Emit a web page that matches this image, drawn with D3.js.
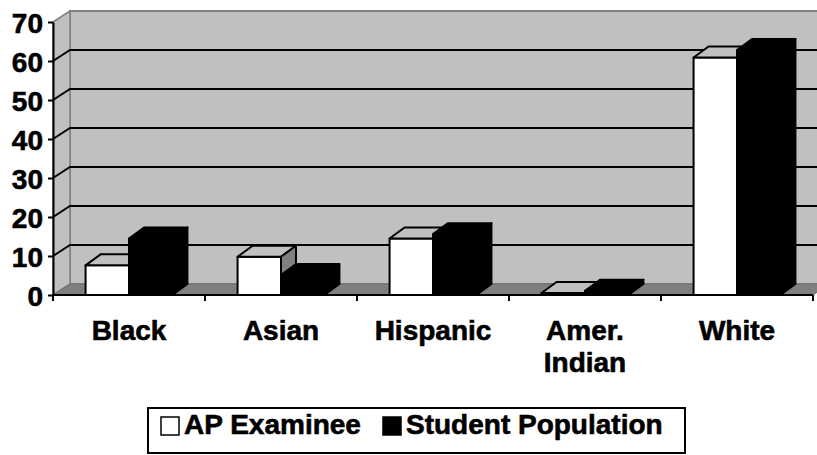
<!DOCTYPE html>
<html>
<head>
<meta charset="utf-8">
<script src="https://cdn.jsdelivr.net/npm/d3@7"></script>
<style>
  body { margin: 0; background: #fff; }
  svg { display: block; }
  text { font-family: "Liberation Sans", Arial, Helvetica, sans-serif; font-weight: bold;
         fill: #000; stroke: #000; stroke-width: 0.6px; }
</style>
</head>
<body>
<svg id="chart" width="817" height="455"></svg>
<script>
// Share of AP examinees vs. the student population, by ethnic group (percent)
const categories = ["Black", "Asian", "Hispanic", "Amer. Indian", "White"];
const seriesNames = ["AP Examinee", "Student Population"];
const apExaminee = [7.6, 9.8, 14.5, 0.5, 60.9];
const studentPopulation = [14.5, 5.1, 15.6, 1.1, 62.8];
const yTicks = [0, 10, 20, 30, 40, 50, 60, 70];

const seriesValues = [apExaminee, studentPopulation];
const seriesFill = [
  { front: "#ffffff", top: "#c0c0c0", side: "#808080" },
  { front: "#000000", top: "#000000", side: "#000000" }
];

const svg = d3.select("#chart");
const FONT = 28;

// plot geometry (front plane) and the 3-D depth offsets
const left = 53, right = 813, base = 295, topY = 22;
const DX = 17, DY = -11;      // wall / floor depth
const BDX = 15, BDY = -11;    // column depth

const x = d3.scaleBand().domain(categories).range([left, right]);
const xs = d3.scaleBand().domain(seriesNames).range([0, x.bandwidth()])
  .paddingInner(0).paddingOuter(0.75);
const y = d3.scaleLinear().domain([0, 70]).range([base, topY]);

const poly = pts => pts.map(p => p.join(",")).join(" ");

// back wall
svg.append("polygon")
  .attr("points", poly([[left + DX, y(70) + DY], [right + DX + 40, y(70) + DY],
                        [right + DX + 40, y(0) + DY], [left + DX, y(0) + DY]]))
  .attr("fill", "#c0c0c0").attr("stroke", "#808080").attr("stroke-width", 2);

// side wall
svg.append("polygon")
  .attr("points", poly([[left, y(70)], [left + DX, y(70) + DY],
                        [left + DX, y(0) + DY], [left, y(0)]]))
  .attr("fill", "#c0c0c0").attr("stroke", "#808080").attr("stroke-width", 1.5);

// floor
svg.append("polygon")
  .attr("points", poly([[left, y(0)], [right, y(0)],
                        [right + DX, y(0) + DY], [left + DX, y(0) + DY]]))
  .attr("fill", "#808080").attr("stroke", "#707070").attr("stroke-width", 1);

// gridlines: along the back wall and across the side wall
const grid = svg.append("g").attr("stroke", "#000").attr("stroke-width", 2).attr("fill", "none");
const gridVals = yTicks.filter(v => v > 0 && v < 70);
grid.selectAll("path.g").data(gridVals).join("path")
  .attr("class", "g")
  .attr("d", v => `M${left},${y(v)}L${left + DX},${y(v) + DY}H${right + DX + 40}`);

// 3-D columns
const cats = svg.append("g").selectAll("g").data(categories).join("g");
seriesNames.forEach((s, si) => {
  const col = cats.append("g").datum((c, i) => {
    const x0 = x(c) + xs(s);
    return { x0, w: xs.bandwidth(), yt: y(seriesValues[si][i]), yb: y(0) };
  });
  const stroke = { stroke: "#000", "stroke-width": 2, "stroke-linejoin": "round" };
  const front = col.append("rect")
    .attr("x", d => d.x0).attr("y", d => d.yt)
    .attr("width", d => d.w).attr("height", d => d.yb - d.yt)
    .attr("fill", seriesFill[si].front);
  const topF = col.append("polygon")
    .attr("points", d => poly([[d.x0, d.yt], [d.x0 + d.w, d.yt],
                               [d.x0 + d.w + BDX, d.yt + BDY], [d.x0 + BDX, d.yt + BDY]]))
    .attr("fill", seriesFill[si].top);
  const sideF = col.append("polygon")
    .attr("points", d => poly([[d.x0 + d.w, d.yt], [d.x0 + d.w + BDX, d.yt + BDY],
                               [d.x0 + d.w + BDX, d.yb + BDY], [d.x0 + d.w, d.yb]]))
    .attr("fill", seriesFill[si].side);
  [front, topF, sideF].forEach(sel => Object.entries(stroke).forEach(([k, v]) => sel.attr(k, v)));
});

// value axis
const yAxis = svg.append("g")
  .attr("transform", `translate(${left},0)`)
  .call(d3.axisLeft(y).tickValues(yTicks).tickSize(5).tickSizeOuter(0).tickPadding(5));
yAxis.attr("font-family", null).attr("font-size", null);
yAxis.select(".domain").attr("stroke", "#000").attr("stroke-width", 2);
yAxis.selectAll(".tick line").attr("stroke", "#000").attr("stroke-width", 2);
yAxis.selectAll(".tick text")
  .attr("font-size", FONT).attr("fill", "#000").attr("dy", "0.36em");

// category axis: baseline with ticks at category boundaries
const xAxis = svg.append("g");
xAxis.append("line")
  .attr("x1", left).attr("x2", right).attr("y1", base).attr("y2", base)
  .attr("stroke", "#000").attr("stroke-width", 2);
const bounds = categories.map(c => x(c)).concat([x.range()[1]]);
xAxis.selectAll("line.t").data(bounds).join("line")
  .attr("class", "t")
  .attr("x1", d => d).attr("x2", d => d).attr("y1", base).attr("y2", base + 6)
  .attr("stroke", "#000").attr("stroke-width", 2);

xAxis.selectAll("text").data(categories).join("text")
  .attr("x", c => x(c) + x.bandwidth() / 2)
  .attr("y", 340)
  .attr("font-size", FONT)
  .attr("text-anchor", "middle")
  .each(function (c) {
    const lines = c === "Amer. Indian" ? ["Amer.", "Indian"] : [c];
    d3.select(this).selectAll("tspan").data(lines).join("tspan")
      .attr("x", x(c) + x.bandwidth() / 2)
      .attr("dy", (l, i) => i === 0 ? 0 : 32)
      .text(l => l);
  });

// legend
const legend = svg.append("g");
legend.append("rect")
  .attr("x", 148).attr("y", 408).attr("width", 537).attr("height", 45)
  .attr("fill", "#fff").attr("stroke", "#000").attr("stroke-width", 2);
const legendX = [161, 383];
seriesNames.forEach((s, i) => {
  legend.append("rect")
    .attr("x", legendX[i]).attr("y", 417).attr("width", 18).attr("height", 18)
    .attr("fill", seriesFill[i].front).attr("stroke", "#000").attr("stroke-width", 1.5);
  legend.append("text")
    .attr("x", legendX[i] + 23).attr("y", 434)
    .attr("font-size", FONT)
    .text(s);
});
</script>
</body>
</html>
